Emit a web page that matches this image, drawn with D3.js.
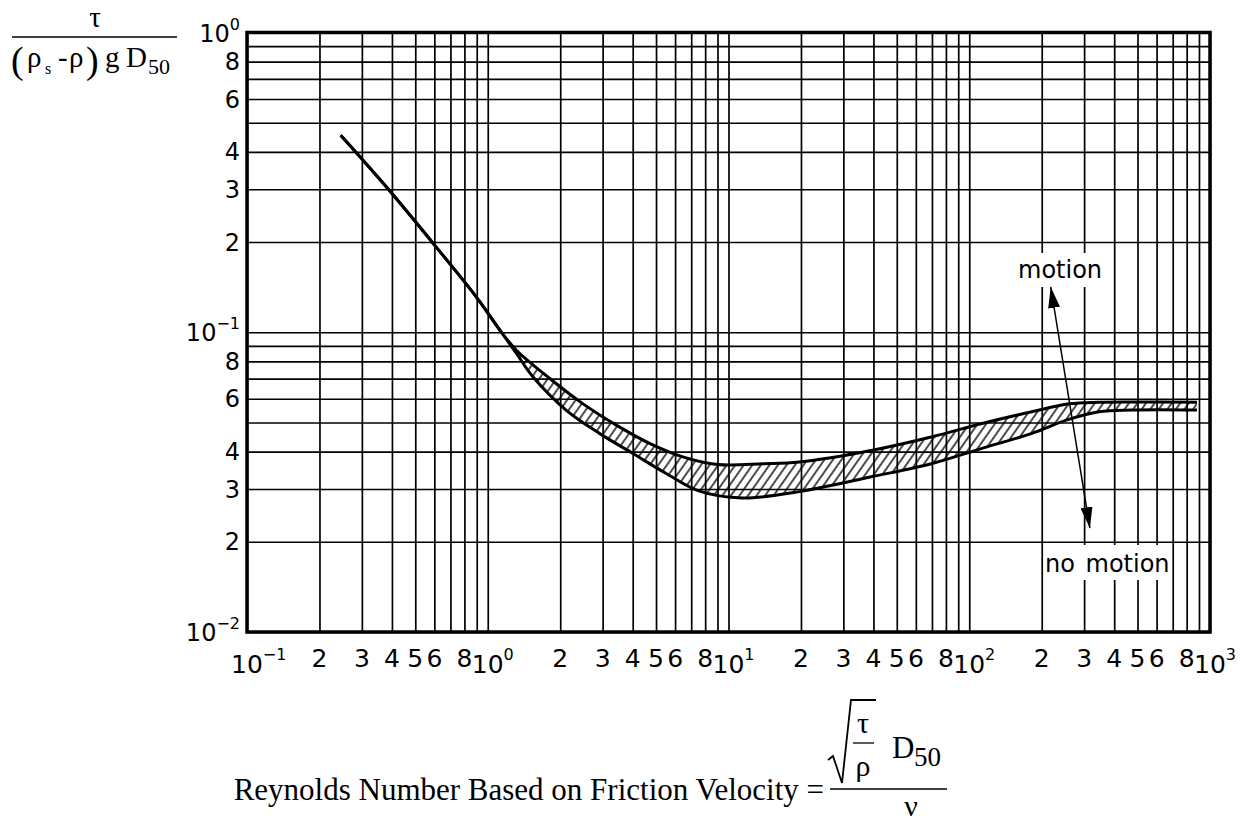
<!DOCTYPE html>
<html>
<head>
<meta charset="utf-8">
<script src="https://d3js.org/d3.v7.min.js"></script>
<style>
  body { margin: 0; background: #fff; }
  .lbl { font-family: "DejaVu Sans", sans-serif; fill: #000; }
  .eq { font-family: "Liberation Serif", "Times New Roman", serif; fill: #000; }
</style>
</head>
<body>
<script>
// single line (smooth / viscous range) - Re*, critical Shields parameter
var lineRe = [0.245, 0.385, 0.593, 0.897, 1.14];
var lineTh = [0.454, 0.301, 0.198, 0.131, 0.100];
// upper edge of the band
var upperRe = [1.14, 1.315, 1.81, 2.48, 3.42, 4.70, 6.46, 9.0, 14, 19.7, 39.6, 70.2, 113, 182, 260, 346, 500, 883];
var upperTh = [0.100, 0.0871, 0.0701, 0.0578, 0.0490, 0.0426, 0.0384, 0.0362, 0.0364, 0.0369, 0.0404, 0.0448, 0.0496, 0.0543, 0.0577, 0.0584, 0.0585, 0.0584];
// lower edge of the band
var lowerRe = [1.14, 1.315, 1.54, 2.12, 2.92, 4.01, 5.51, 7.58, 11.4, 19.7, 39.6, 70.2, 113, 182, 253, 346, 475, 883];
var lowerTh = [0.100, 0.0850, 0.071, 0.0549, 0.0459, 0.0394, 0.0338, 0.0295, 0.0280, 0.0294, 0.0330, 0.0365, 0.0410, 0.0460, 0.0509, 0.0543, 0.0550, 0.0550];

// tick labels
var xDecades = [0.1, 1, 10, 100];
var xMults = [2, 3, 4, 5, 6, 8];
var xPowers = [-1, 0, 1, 2, 3];
var yDecades = [0.01, 0.1];
var yMults = [2, 3, 4, 6, 8];
var yPowers = [-2, -1, 0];

// annotations
var arrowRe = [218, 317];
var arrowTh = [0.1416, 0.0222];

var W = 1244, H = 822;
var pL = 247, pR = 1210, pT = 32.5, pB = 632;

var x = d3.scaleLog().domain([0.1, 1000]).range([pL, pR]);
var y = d3.scaleLog().domain([0.01, 1]).range([pB, pT]);

var svg = d3.select("body").append("svg")
  .attr("width", W).attr("height", H);

var defs = svg.append("defs");
defs.append("pattern")
  .attr("id", "hatch")
  .attr("patternUnits", "userSpaceOnUse")
  .attr("width", 7).attr("height", 7)
  .attr("patternTransform", "rotate(35)")
  .append("line")
    .attr("x1", 1).attr("y1", -1).attr("x2", 1).attr("y2", 8)
    .attr("stroke", "#000").attr("stroke-width", 1.4);

defs.append("marker")
  .attr("id", "head")
  .attr("viewBox", "0 -6 21 12")
  .attr("refX", 21).attr("refY", 0)
  .attr("markerUnits", "userSpaceOnUse")
  .attr("markerWidth", 21).attr("markerHeight", 12)
  .attr("orient", "auto-start-reverse")
  .append("path")
    .attr("d", "M0,-6L21,0L0,6Z")
    .attr("fill", "#000");

//grid
var gx = svg.append("g")
  .attr("transform", "translate(0," + pB + ")")
  .call(d3.axisBottom(x).tickValues(x.ticks()).tickSize(-(pB - pT)).tickFormat(""));
var gy = svg.append("g")
  .attr("transform", "translate(" + pL + ",0)")
  .call(d3.axisLeft(y).tickValues(y.ticks()).tickSize(-(pR - pL)).tickFormat(""));
[gx, gy].forEach(function(g) {
  g.select(".domain").remove();
  g.selectAll(".tick line").attr("stroke", "#000").attr("stroke-width", 1.7);
});

//band
var pts = function(a, b) { return d3.zip(a, b); };
var line = d3.line()
  .x(function(d) { return x(d[0]); })
  .y(function(d) { return y(d[1]); })
  .curve(d3.curveCatmullRom.alpha(0.5));

var up = pts(upperRe, upperTh);
var lo = pts(lowerRe, lowerTh);
var lowRev = line(lo.slice().reverse());
svg.append("path")
  .attr("d", line(up) + "L" + lowRev.slice(1) + "Z")
  .attr("fill", "url(#hatch)")
  .attr("stroke", "none");

var single = pts(lineRe, lineTh);
svg.append("path")
  .attr("d", line(single.concat(up.slice(1))))
  .attr("fill", "none").attr("stroke", "#000").attr("stroke-width", 3);
svg.append("path")
  .attr("d", line(single.concat(lo.slice(1))))
  .attr("fill", "none").attr("stroke", "#000").attr("stroke-width", 3);

//labels motion / no motion (white behind)
svg.append("rect").attr("x", 1012).attr("y", 253).attr("width", 93).attr("height", 34).attr("fill", "#fff");
svg.append("rect").attr("x", 1044).attr("y", 545).attr("width", 125).attr("height", 35).attr("fill", "#fff");
svg.append("text").attr("class", "lbl")
  .attr("x", 1018).attr("y", 278).attr("font-size", 24).text("motion");
svg.append("text").attr("class", "lbl")
  .attr("x", 1045).attr("y", 572).attr("font-size", 24).attr("word-spacing", 3).text("no motion");

//arrow
svg.append("line")
  .attr("x1", x(arrowRe[0])).attr("y1", y(arrowTh[0]))
  .attr("x2", x(arrowRe[1])).attr("y2", y(arrowTh[1]))
  .attr("stroke", "#000").attr("stroke-width", 1.5)
  .attr("marker-start", "url(#head)")
  .attr("marker-end", "url(#head)");

//frame
svg.append("rect")
  .attr("x", pL).attr("y", pT)
  .attr("width", pR - pL).attr("height", pB - pT)
  .attr("fill", "none").attr("stroke", "#000").attr("stroke-width", 3.5);

//x tick labels
var xVals = [];
xDecades.forEach(function(d) { xMults.forEach(function(m) { xVals.push(m * d); }); });
svg.append("g").selectAll("text").data(xVals).enter().append("text")
  .attr("class", "lbl")
  .attr("x", function(d) { return x(d); })
  .attr("y", 667)
  .attr("text-anchor", "middle")
  .attr("font-size", 25)
  .text(function(d) { return Math.round(d / Math.pow(10, Math.floor(Math.log10(d) + 1e-9))); });

var xp = svg.append("g").selectAll("text").data(xPowers).enter().append("text")
  .attr("class", "lbl")
  .attr("x", function(d) { return x(Math.pow(10, d)) - 16; })
  .attr("y", 673)
  .attr("font-size", 25)
  .text("10");
xp.append("tspan")
  .attr("dy", -13).attr("font-size", 16)
  .text(function(d) { return d < 0 ? "\u2212" + (-d) : d; });

//y tick labels
var yVals = [];
yDecades.forEach(function(d) { yMults.forEach(function(m) { yVals.push(m * d); }); });
svg.append("g").selectAll("text").data(yVals).enter().append("text")
  .attr("class", "lbl")
  .attr("x", 240)
  .attr("y", function(d) { return y(d); })
  .attr("dy", "0.36em")
  .attr("text-anchor", "end")
  .attr("font-size", 24)
  .text(function(d) { return Math.round(d / Math.pow(10, Math.floor(Math.log10(d) + 1e-9))); });

var yp = svg.append("g").selectAll("text").data(yPowers).enter().append("text")
  .attr("class", "lbl")
  .attr("x", 240)
  .attr("y", function(d) { return y(Math.pow(10, d)) + 9; })
  .attr("text-anchor", "end")
  .attr("font-size", 24)
  .text("10");
yp.append("tspan")
  .attr("dy", -12).attr("font-size", 16)
  .text(function(d) { return d < 0 ? "\u2212" + (-d) : d; });

//y title
var yt = svg.append("g").attr("class", "eq");
yt.append("text").attr("x", 95).attr("y", 27).attr("text-anchor", "middle").attr("font-size", 29).text("τ");
yt.append("line").attr("x1", 12).attr("x2", 177).attr("y1", 37).attr("y2", 37).attr("stroke", "#000").attr("stroke-width", 1.3);
yt.append("text").attr("x", 11).attr("y", 73).attr("font-size", 38).text("(");
yt.append("text").attr("x", 27).attr("y", 67).attr("font-size", 29).text("ρ");
yt.append("text").attr("x", 45).attr("y", 74).attr("font-size", 16).text("s");
yt.append("text").attr("x", 58).attr("y", 67).attr("font-size", 29).text("-");
yt.append("text").attr("x", 69).attr("y", 67).attr("font-size", 29).text("ρ");
yt.append("text").attr("x", 86).attr("y", 73).attr("font-size", 38).text(")");
yt.append("text").attr("x", 105).attr("y", 67).attr("font-size", 29).text("g");
yt.append("text").attr("x", 126).attr("y", 67).attr("font-size", 29).text("D");
yt.append("text").attr("x", 148).attr("y", 74).attr("font-size", 22).text("50");

//x title
var xt = svg.append("g").attr("class", "eq");
xt.append("text").attr("x", 824).attr("y", 800).attr("text-anchor", "end").attr("font-size", 31)
  .text("Reynolds Number Based on Friction Velocity =");
xt.append("path").attr("d", "M828,760L833,756L842,783L851,700L876,700")
  .attr("fill", "none").attr("stroke", "#000").attr("stroke-width", 1.8);
xt.append("text").attr("x", 863).attr("y", 733).attr("text-anchor", "middle").attr("font-size", 30).text("τ");
xt.append("line").attr("x1", 853).attr("x2", 874).attr("y1", 743).attr("y2", 743).attr("stroke", "#000").attr("stroke-width", 1.3);
xt.append("text").attr("x", 863).attr("y", 776).attr("text-anchor", "middle").attr("font-size", 30).text("ρ");
xt.append("text").attr("x", 892).attr("y", 758).attr("font-size", 31).text("D");
xt.append("text").attr("x", 914).attr("y", 766).attr("font-size", 27).text("50");
xt.append("line").attr("x1", 830).attr("x2", 947).attr("y1", 789).attr("y2", 789).attr("stroke", "#000").attr("stroke-width", 1.5);
xt.append("text").attr("x", 911).attr("y", 816).attr("text-anchor", "middle").attr("font-size", 30).text("ν");
</script>
</body>
</html>
